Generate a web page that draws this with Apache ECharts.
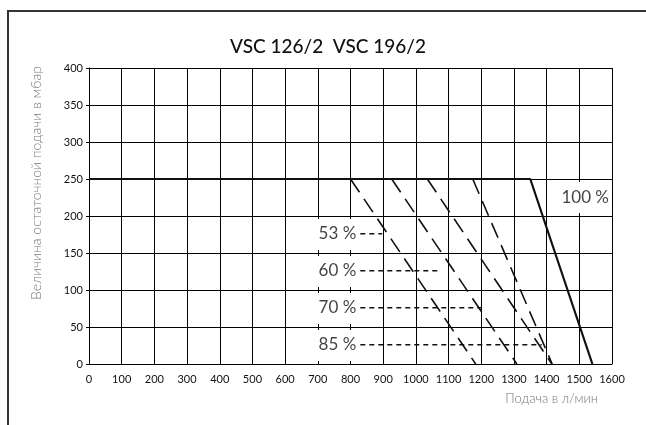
<!DOCTYPE html>
<html><head><meta charset="utf-8">
<script src="https://cdn.jsdelivr.net/npm/echarts@6/dist/echarts.min.js"></script>
<style>html,body{margin:0;padding:0;background:#fff}#c{width:646px;height:425px}</style>
</head><body><div id="c"></div>
<script>
const titleText = 'VSC 126/2  VSC 196/2';
const xName = 'Подача в л/мин';
const yName = 'Величина остаточной подачи в мбар';

// solid curve, 100 % pump speed
const curve100 = [[0, 250], [1350, 250], [1540, 0]];
const label100 = ['100 %', 1518, 225];

// dashed pump curves
const curveA = [[800, 250], [1183, 0]];
const curveB = [[926, 250], [1309, 0]];
const curveC = [[1035, 250], [1416, 0]];
const curveD = [[1174, 250], [1417, 0]];

// leader lines for percentage labels
const leaderNames = ['53 %', '60 %', '70 %', '85 %'];
const leaderY = [176, 126, 76, 26];
const leaderStartX = 830;
const leaderEndX = [897, 1073, 1200, 1385];

// cut-outs of the grid behind labels
const labelBoxX = [690, 830];
const rowBounds = [0, 50, 100, 150, 200];
const box100 = [[1420, 204], [1596, 246]];
const tickCut = 4;

const chart = echarts.init(document.getElementById('c'), null, {renderer: 'canvas'});
const FONT = 'Lato, "Open Sans", sans-serif';

const maskAreas = [];
for (let k = 0; k < rowBounds.length - 1; k++) {
  maskAreas.push([{xAxis: labelBoxX[0], yAxis: rowBounds[k] + tickCut}, {xAxis: labelBoxX[1], yAxis: rowBounds[k + 1] - tickCut}]);
}
maskAreas.push([{xAxis: box100[0][0], yAxis: box100[0][1]}, {xAxis: box100[1][0], yAxis: box100[1][1]}]);

const dashCurves = [curveA, curveB, curveC, curveD];
const series = [];
series.push({
  type: 'line', data: [], z: 1, silent: true,
  markArea: {silent: true, itemStyle: {color: '#fff', opacity: 1}, data: maskAreas}
});
series.push({
  type: 'line', data: curve100, showSymbol: false, symbol: 'none', z: 4,
  lineStyle: {color: '#111', width: 2.2}
});
dashCurves.forEach(c => series.push({
  type: 'line', data: c, symbol: 'none', z: 3,
  lineStyle: {color: '#111', width: 1.6, type: [16, 8]}
}));
leaderY.forEach((y, i) => series.push({
  type: 'line', data: [[leaderStartX, y], [leaderEndX[i], y]], symbol: 'none', z: 3,
  lineStyle: {color: '#111', width: 1.4, type: [5, 4]}
}));
series.push({
  type: 'scatter', symbolSize: 0, z: 5, silent: true,
  data: leaderNames.map((n, i) => ({value: [leaderStartX, leaderY[i]], name: n})),
  label: {show: true, position: 'left', distance: 4, formatter: p => p.name,
    color: '#111', fontSize: 17, fontFamily: FONT}
});
series.push({
  type: 'scatter', symbolSize: 0, z: 5, silent: true,
  data: [{value: [label100[1], label100[2]], name: label100[0]}],
  label: {show: true, position: 'inside', formatter: p => p.name,
    color: '#111', fontSize: 17, fontFamily: FONT}
});

chart.setOption({
  animation: false,
  backgroundColor: '#fff',
  grid: {left: 89, right: 34, top: 68, bottom: 61},
  xAxis: {
    type: 'value', min: 0, max: 1600, interval: 100,
    axisLine: {show: true, lineStyle: {color: '#000', width: 1}},
    axisTick: {show: false},
    axisLabel: {color: '#111', fontSize: 11, fontFamily: FONT, margin: 10, formatter: v => String(v)},
    splitLine: {show: true, lineStyle: {color: '#000', width: 1}}
  },
  yAxis: {
    type: 'value', min: 0, max: 400, interval: 50,
    axisLine: {show: true, lineStyle: {color: '#000', width: 1}},
    axisTick: {show: true, length: 3, lineStyle: {color: '#000'}},
    axisLabel: {color: '#111', fontSize: 11, fontFamily: FONT, margin: 6, formatter: v => String(v)},
    splitLine: {show: true, lineStyle: {color: '#000', width: 1}}
  },
  graphic: [
    {type: 'polyline', shape: {points: [[8, 425], [8, 11], [646, 11]]}, style: {stroke: '#333', lineWidth: 2, fill: null}},
    {type: 'text', x: 328, y: 47, style: {text: titleText, textAlign: 'center', textVerticalAlign: 'middle', fill: '#111', fontSize: 19, fontWeight: 500, fontFamily: FONT}},
    {type: 'text', x: 36, y: 183, rotation: Math.PI / 2, style: {text: yName, textAlign: 'center', textVerticalAlign: 'middle', fill: '#777', fontSize: 14, fontWeight: 300, fontFamily: FONT}},
    {type: 'text', x: 598, y: 399, style: {text: xName, textAlign: 'right', textVerticalAlign: 'middle', fill: '#777', fontSize: 13, fontWeight: 300, fontFamily: FONT}}
  ],
  series: series
});
</script></body></html>
